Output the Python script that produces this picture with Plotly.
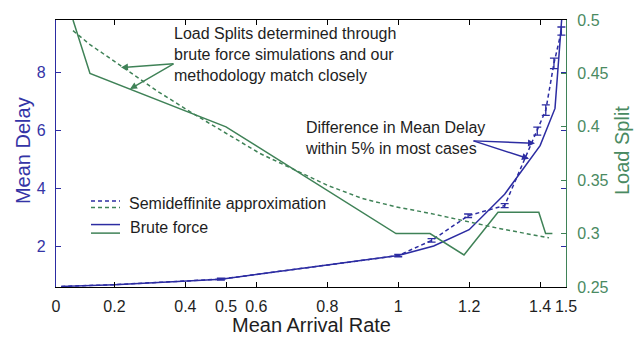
import plotly.graph_objects as go

# ---------------- data ----------------
# Mean delay (left axis) vs mean arrival rate
delay_bf_x = [0.05, 0.2, 0.5, 1.0, 1.1, 1.2, 1.3, 1.4, 1.442, 1.465]
delay_bf_y = [0.64, 0.70, 0.89, 1.70, 2.03, 2.59, 3.81, 5.48, 6.76, 10.5]

delay_sdp_low_x = [0.05, 0.2]
delay_sdp_low_y = [0.64, 0.70]
delay_err_x = [0.5, 1.0, 1.094, 1.197, 1.30, 1.392, 1.416, 1.439, 1.46]
delay_err_y = [0.89, 1.70, 2.22, 3.07, 3.42, 5.98, 6.70, 8.31, 9.42]
delay_err = [0.03, 0.04, 0.06, 0.06, 0.07, 0.14, 0.18, 0.18, 0.14]

# Load split (right axis) vs mean arrival rate
split_sdp_x = [0.05, 0.1, 0.2, 0.3, 0.4, 0.5, 0.6, 0.7, 0.8, 0.9, 1.0, 1.1, 1.2, 1.3, 1.4, 1.45]
split_sdp_y = [0.490, 0.477, 0.455, 0.433, 0.413, 0.394, 0.375, 0.360, 0.345, 0.333, 0.325,
               0.319, 0.312, 0.305, 0.299, 0.296]
split_bf_x = [0.05, 0.1, 0.5, 1.0, 1.1, 1.2, 1.3, 1.42, 1.44, 1.46]
split_bf_y = [0.50, 0.45, 0.40, 0.30, 0.30, 0.28, 0.32, 0.32, 0.30, 0.30]

x1_ticks = [0.2, 0.4, 0.6, 0.8, 1, 1.2, 1.4]
x2_ticks = [0, 0.5, 1.5]
y1_ticks = [2, 4, 6, 8]
y2_ticks = [0.25, 0.3, 0.35, 0.4, 0.45, 0.5]

BLUE = "#2c2ca2"
BLUE_T = "#3434a6"
GREEN = "#3f8257"
GREEN_T = "#4a8a62"
TXT = "#1e1e1e"
FONT = "Arial, Liberation Sans, sans-serif"

fig = go.Figure()

fig.add_trace(go.Scatter(x=delay_bf_x, y=delay_bf_y, mode="lines",
                         line=dict(color=BLUE, width=1.5), xaxis="x", yaxis="y"))
fig.add_trace(go.Scatter(x=delay_sdp_low_x + delay_err_x, y=delay_sdp_low_y + delay_err_y,
                         mode="lines", line=dict(color=BLUE, width=1.5, dash="4px,3px"),
                         xaxis="x", yaxis="y"))
fig.add_trace(go.Scatter(x=delay_err_x, y=delay_err_y, mode="markers",
                         marker=dict(size=1, color="rgba(0,0,0,0)"),
                         error_y=dict(type="data", array=delay_err, color=BLUE,
                                      thickness=1.3, width=4),
                         xaxis="x", yaxis="y"))
fig.add_trace(go.Scatter(x=split_sdp_x, y=split_sdp_y, mode="lines",
                         line=dict(color=GREEN, width=1.5, dash="4px,3px"),
                         xaxis="x2", yaxis="y2"))
fig.add_trace(go.Scatter(x=split_bf_x, y=split_bf_y, mode="lines",
                         line=dict(color=GREEN, width=1.5), xaxis="x2", yaxis="y2"))

L, R, T, B = 56, 566, 12, 287
W, H = 641, 341


def px(xp):
    return (xp - L) / (R - L)


def py(yp):
    return (B - yp) / (B - T)


fig.update_layout(
    width=W, height=H,
    margin=dict(l=L, r=W - R, t=T, b=H - B, pad=0),
    paper_bgcolor="white", plot_bgcolor="white",
    showlegend=False,
    font=dict(family=FONT, size=16, color=TXT),
    xaxis=dict(range=[0.0352, 1.473], tickvals=x1_ticks,
               ticktext=[str(v) for v in x1_ticks],
               ticks="inside", ticklen=5, tickcolor="black", tickwidth=1,
               showline=True, linecolor="black", linewidth=1.2, mirror="ticks",
               showgrid=False, zeroline=False, tickfont=dict(size=16, color=TXT),
               ticklabelstandoff=5),
    xaxis2=dict(range=[0, 1.5], tickvals=x2_ticks, ticktext=["0", "0.5", "1.5"],
                overlaying="x", side="bottom", anchor="y",
                ticks="inside", ticklen=5, tickcolor="black",
                showline=True, linecolor="black", linewidth=1.2,
                showgrid=False, zeroline=False, tickfont=dict(size=16, color=TXT),
                ticklabelstandoff=5),
    yaxis=dict(range=[0.62, 9.8], tickvals=y1_ticks,
               ticks="inside", ticklen=5, tickcolor=BLUE,
               showline=True, linecolor=BLUE, linewidth=1.2, mirror="ticks",
               showgrid=False, zeroline=False, tickfont=dict(size=16, color=BLUE_T),
               ticklabelstandoff=6),
    yaxis2=dict(range=[0.25, 0.5], tickvals=y2_ticks,
                ticktext=["0.25", "0.3", "0.35", "0.4", "0.45", "0.5"],
                overlaying="y", side="right", anchor="x",
                ticks="inside", ticklen=5, tickcolor=GREEN,
                showline=True, linecolor=GREEN, linewidth=1.2,
                showgrid=False, zeroline=False, tickfont=dict(size=16, color=GREEN_T),
                ticklabelstandoff=7),
)

ann = []
# axis titles
ann.append(dict(text="Mean Delay", x=px(23), y=py(147), xref="paper", yref="paper",
                textangle=-90, showarrow=False, font=dict(size=20, color=BLUE_T),
                xanchor="center", yanchor="middle"))
ann.append(dict(text="Load Split", x=px(622), y=py(147), xref="paper", yref="paper",
                textangle=-90, showarrow=False, font=dict(size=20, color=GREEN_T),
                xanchor="center", yanchor="middle"))
ann.append(dict(text="Mean Arrival Rate", x=px(311), y=py(326), xref="paper", yref="paper",
                showarrow=False, font=dict(size=20, color=TXT),
                xanchor="center", yanchor="middle"))
# text notes
ann.append(dict(text="Load Splits determined through<br>brute force simulations and our<br>methodology match closely",
                x=px(172), y=py(47.5), xref="paper", yref="paper", showarrow=False,
                align="left", xanchor="left", yanchor="middle",
                font=dict(size=16, color=TXT)))
ann.append(dict(text="Difference in Mean Delay<br>within 5% in most cases",
                x=px(303), y=py(133.5), xref="paper", yref="paper", showarrow=False,
                align="left", xanchor="left", yanchor="middle",
                font=dict(size=16, color=TXT)))
ann.append(dict(text="Semideffinite approximation", x=px(126.5), y=py(200.7),
                xref="paper", yref="paper", showarrow=False, xanchor="left",
                yanchor="middle", font=dict(size=16, color=TXT)))
ann.append(dict(text="Brute force", x=px(128), y=py(226), xref="paper", yref="paper",
                showarrow=False, xanchor="left", yanchor="middle",
                font=dict(size=16, color=TXT)))

# arrows
def arrow(tail, head, color):
    return dict(text="", x=px(head[0]), y=py(head[1]), xref="paper", yref="paper",
                ax=tail[0] - head[0], ay=tail[1] - head[1], axref="pixel", ayref="pixel",
                showarrow=True, arrowhead=2, arrowsize=1, arrowwidth=1.4,
                arrowcolor=color, standoff=0, startstandoff=0)

ann.append(arrow((175, 57), (121, 61), GREEN))
ann.append(arrow((175, 57), (130, 83), GREEN))
ann.append(arrow((472, 136.5), (535, 139), BLUE))
ann.append(arrow((472, 136.5), (529, 155), BLUE))

fig.update_layout(annotations=ann)

# legend line samples
shapes = []
for yy, col, dash in [(198.3, BLUE, "4px,3px"), (205, GREEN, "4px,3px"),
                      (222.7, BLUE, "solid"), (231.5, GREEN, "solid")]:
    shapes.append(dict(type="line", xref="paper", yref="paper",
                       x0=px(91), x1=px(120), y0=py(yy), y1=py(yy),
                       line=dict(color=col, width=1.5, dash=dash)))
fig.update_layout(shapes=shapes)

fig.write_html("out.html")
